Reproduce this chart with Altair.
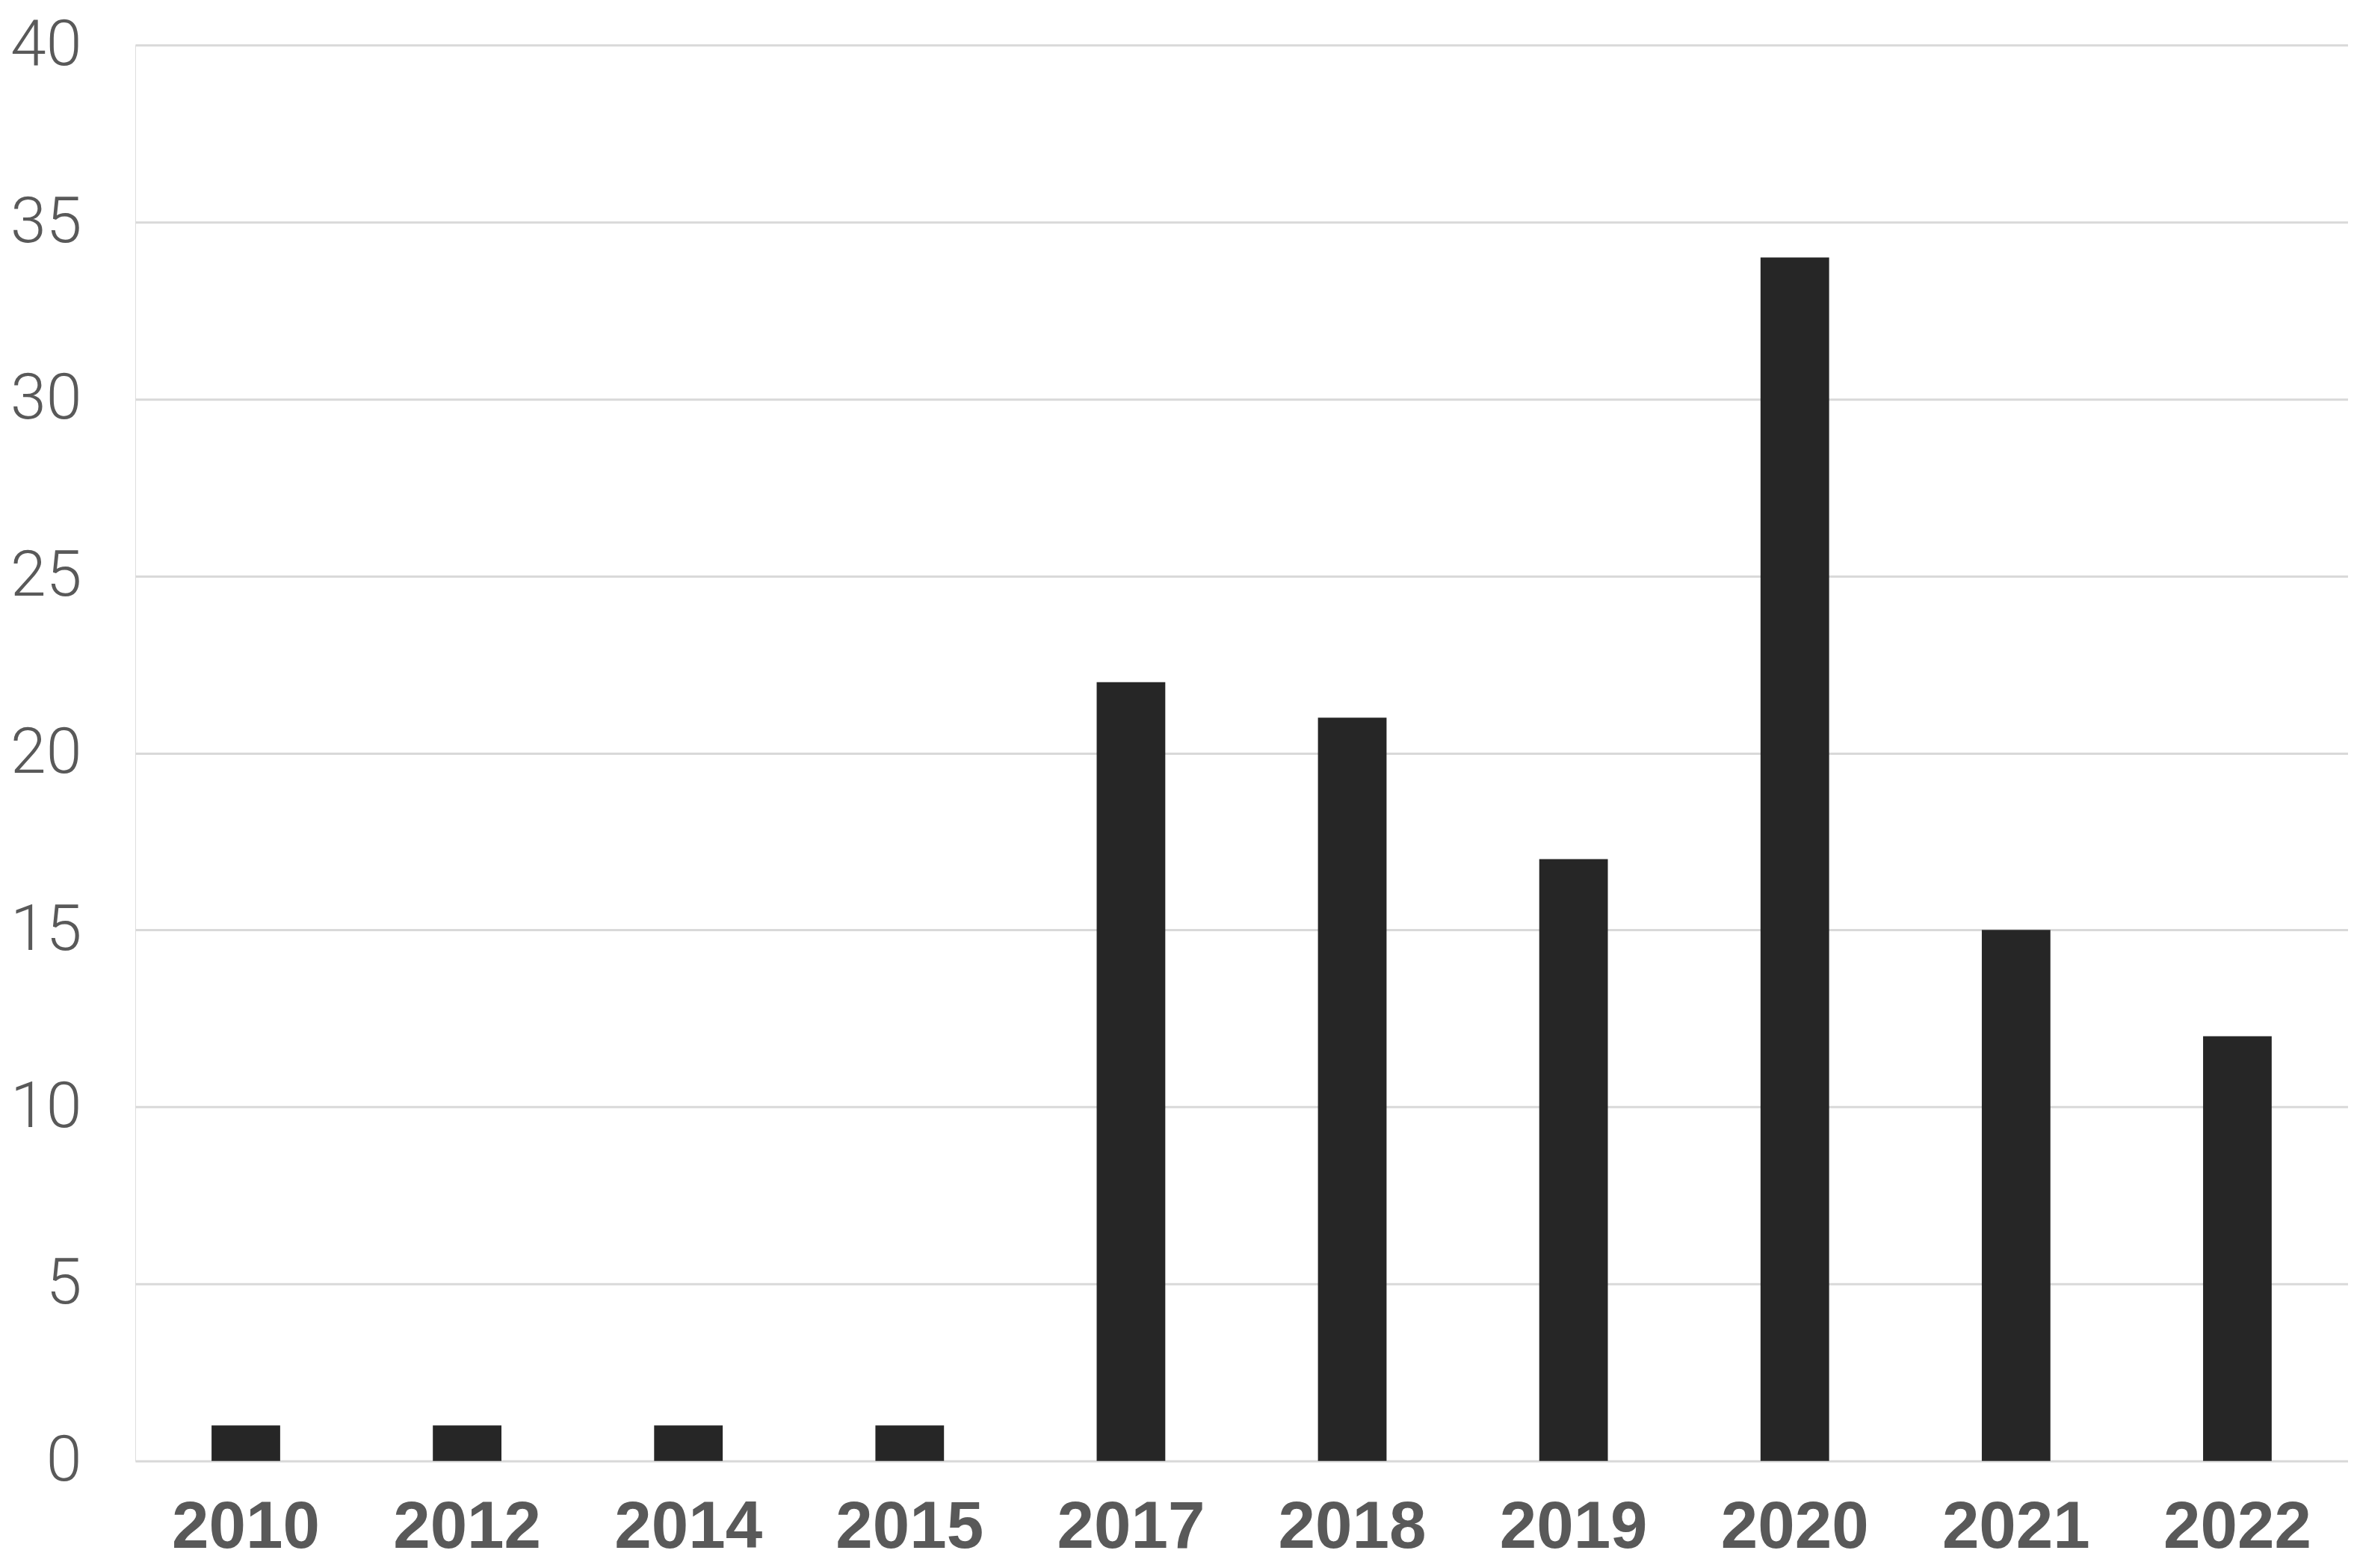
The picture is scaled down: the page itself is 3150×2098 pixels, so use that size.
import altair as alt
import pandas as pd

years = ["2010", "2012", "2014", "2015", "2017", "2018", "2019", "2020", "2021", "2022"]
counts = [1, 1, 1, 1, 22, 21, 17, 34, 15, 12]

df = pd.DataFrame({"year": years, "count": counts})

chart = (
    alt.Chart(df)
    .mark_bar(color="#262626")
    .encode(
        x=alt.X(
            "year:N",
            sort=years,
            title=None,
            scale=alt.Scale(paddingInner=0.69, paddingOuter=0.345),
            axis=alt.Axis(
                labelAngle=0,
                labelFont="Liberation Sans",
                labelFontSize=89,
                labelFontWeight="bold",
                labelColor="#595959",
                labelPadding=46,
                labelLimit=1000,
                labelOverlap=False,
                ticks=False,
                domain=False,
                grid=False,
            ),
        ),
        y=alt.Y(
            "count:Q",
            title=None,
            scale=alt.Scale(domain=[0, 40], nice=False),
            axis=alt.Axis(
                values=[0, 5, 10, 15, 20, 25, 30, 35, 40],
                labelFont="Roboto",
                labelFontWeight=300,
                labelFontSize=86,
                labelColor="#595959",
                labelPadding=72,
                ticks=False,
                domain=False,
                grid=True,
                gridColor="#d9d9d9",
                gridWidth=3,
            ),
        ),
    )
    .properties(
        width=2962,
        height=1895,
        autosize=alt.AutoSizeParams(type="none"),
        padding={"left": 173, "top": 52, "right": 0, "bottom": 135},
    )
    .configure_axis(domain=False, ticks=False)
    .configure_axisBand(grid=False, domain=False)
    .configure_axisX(grid=False)
    .configure_view(stroke=None)
    .configure(background="white")
)

chart.save("out.html", embed_options={"renderer": "svg", "actions": False})
